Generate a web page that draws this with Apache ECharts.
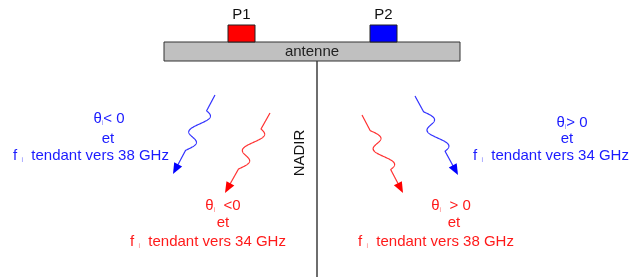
<!DOCTYPE html>
<html>
<head>
<meta charset="utf-8">
<script src="https://cdn.jsdelivr.net/npm/echarts@6/dist/echarts.min.js"></script>
<style>
html, body { margin: 0; background: #fff; }
.main { width: 640px; height: 277px; }
</style>
</head>
<body>
<div class="main"></div>
<script>
// antenna bar: x0, y0, x1, y1, label
var antenna = [164, 42, 460, 61, 'antenne'];
// patches: name, x0, y0, x1, y1
var pads = [
    ['P1', 228, 25, 255, 42],
    ['P2', 370, 25, 397, 42]
];
// nadir line and its label
var nadir = [[317, 61], [317, 277]];
var nadirLabel = [300, 153, 'NADIR'];
// wavy rays: start x, start y, tip x, tip y, patch
var waves = [
    [215, 95, 173, 174, 'P2'],
    [270, 113, 225, 193, 'P1'],
    [362, 115, 403, 193, 'P1'],
    [415, 96, 458, 175, 'P2']
];
// text lines: center x, center y, text, patch
var notes = [
    [109, 119, 'θ{s|i}< 0', 'P2'],
    [108, 139, 'et', 'P2'],
    [91, 156, 'f {s|i}  tendant vers 38 GHz', 'P2'],
    [223, 206, 'θ{s|i}  <0', 'P1'],
    [223, 223, 'et', 'P1'],
    [208, 242, 'f {s|i}  tendant vers 34 GHz', 'P1'],
    [572, 123, 'θ{s|i}> 0', 'P2'],
    [567, 139, 'et', 'P2'],
    [551, 156, 'f {s|i}  tendant vers 34 GHz', 'P2'],
    [451, 206, 'θ{s|i}  > 0', 'P1'],
    [454, 223, 'et', 'P1'],
    [436, 242, 'f {s|i}  tendant vers 38 GHz', 'P1']
];

var fill = { P1: '#ff0000', P2: '#0000ff' };
var ink = { P1: '#ff1a1a', P2: '#1a1aff' };
var font = 'Liberation Sans, Arial, sans-serif';

function rectItem(params, api) {
    var a = api.coord([api.value(1), api.value(2)]);
    var b = api.coord([api.value(3), api.value(4)]);
    var name = pads[params.dataIndex][0];
    return {
        type: 'group',
        children: [{
            type: 'rect',
            shape: { x: a[0], y: a[1], width: b[0] - a[0], height: b[1] - a[1] },
            style: { fill: fill[name], stroke: '#222', lineWidth: 1 }
        }, {
            type: 'text',
            x: (a[0] + b[0]) / 2, y: a[1] - 10,
            style: { text: name, fill: '#111', fontSize: 15, fontFamily: font, align: 'center', verticalAlign: 'middle' }
        }]
    };
}

// wavy shaft drawn as a sine along the ray, then a filled head at the tip
function waveItem(params, api) {
    var p0 = api.coord([api.value(0), api.value(1)]);
    var p1 = api.coord([api.value(2), api.value(3)]);
    var c = fill[waves[params.dataIndex][4]];
    var dx = p1[0] - p0[0], dy = p1[1] - p0[1];
    var len = Math.sqrt(dx * dx + dy * dy);
    var ux = dx / len, uy = dy / len, nx = -uy, ny = ux;
    var head = 11, a = 0.2 * len, b = 0.7 * len;
    var pts = [];
    for (var i = 0; i <= 240; i++) {
        var s = (len - head + 1) * i / 240, off = 0;
        if (s > a && s < b) off = 7 * Math.sin((s - a) / (b - a) * 3 * Math.PI);
        pts.push([p0[0] + ux * s + off, p0[1] + uy * s]);
    }
    var bx = p1[0] - ux * head, by = p1[1] - uy * head;
    return {
        type: 'group',
        children: [{
            type: 'polyline',
            shape: { points: pts },
            style: { stroke: c, lineWidth: 1.2, fill: null, opacity: 0.8, lineJoin: 'round' }
        }, {
            type: 'polygon',
            shape: { points: [p1, [bx + nx * 4.5, by + ny * 4.5], [bx - nx * 4.5, by - ny * 4.5]] },
            style: { fill: c }
        }]
    };
}

function noteItem(params, api) {
    var p = api.coord([api.value(0), api.value(1)]);
    var n = notes[params.dataIndex];
    return {
        type: 'text',
        x: p[0], y: p[1],
        style: {
            text: n[2], fill: ink[n[3]], fontSize: 15, fontFamily: font,
            align: 'center', verticalAlign: 'middle',
            rich: { s: { fontSize: 7, fill: ink[n[3]], opacity: 0.6, verticalAlign: 'bottom', padding: [6, 0, 0, 0] } }
        }
    };
}

var option = {
    animation: false,
    grid: { left: 0, right: 0, top: 0, bottom: 0 },
    xAxis: { type: 'value', min: 0, max: 640, show: false },
    yAxis: { type: 'value', min: 0, max: 277, inverse: true, show: false },
    series: [{
        type: 'line',
        data: nadir,
        symbol: 'none',
        lineStyle: { color: '#6e6e6e', width: 2 },
        z: 1
    }, {
        type: 'custom',
        data: [antenna.slice(0, 4)],
        renderItem: function (params, api) {
            var a = api.coord([api.value(0), api.value(1)]);
            var b = api.coord([api.value(2), api.value(3)]);
            return {
                type: 'group',
                children: [{
                    type: 'rect',
                    shape: { x: a[0], y: a[1], width: b[0] - a[0], height: b[1] - a[1] },
                    style: { fill: '#c0c0c0', stroke: '#333', lineWidth: 1 }
                }, {
                    type: 'text',
                    x: (a[0] + b[0]) / 2, y: (a[1] + b[1]) / 2,
                    style: { text: antenna[4], fill: '#222', fontSize: 15, fontFamily: font, align: 'center', verticalAlign: 'middle' }
                }]
            };
        },
        z: 2
    }, {
        type: 'custom',
        data: pads.map(function (d) { return [0, d[1], d[2], d[3], d[4]]; }),
        renderItem: rectItem,
        z: 3
    }, {
        type: 'custom',
        data: waves.map(function (d) { return d.slice(0, 4); }),
        renderItem: waveItem,
        z: 3
    }, {
        type: 'custom',
        data: notes.map(function (d) { return [d[0], d[1]]; }),
        renderItem: noteItem,
        z: 3
    }, {
        type: 'custom',
        data: [nadirLabel.slice(0, 2)],
        renderItem: function (params, api) {
            var p = api.coord([api.value(0), api.value(1)]);
            return {
                type: 'text',
                x: p[0], y: p[1], rotation: Math.PI / 2,
                style: { text: nadirLabel[2], fill: '#111', fontSize: 15, fontFamily: font, align: 'center', verticalAlign: 'middle' }
            };
        },
        z: 3
    }]
};

echarts.init(document.querySelector('.main')).setOption(option);
</script>
</body>
</html>
